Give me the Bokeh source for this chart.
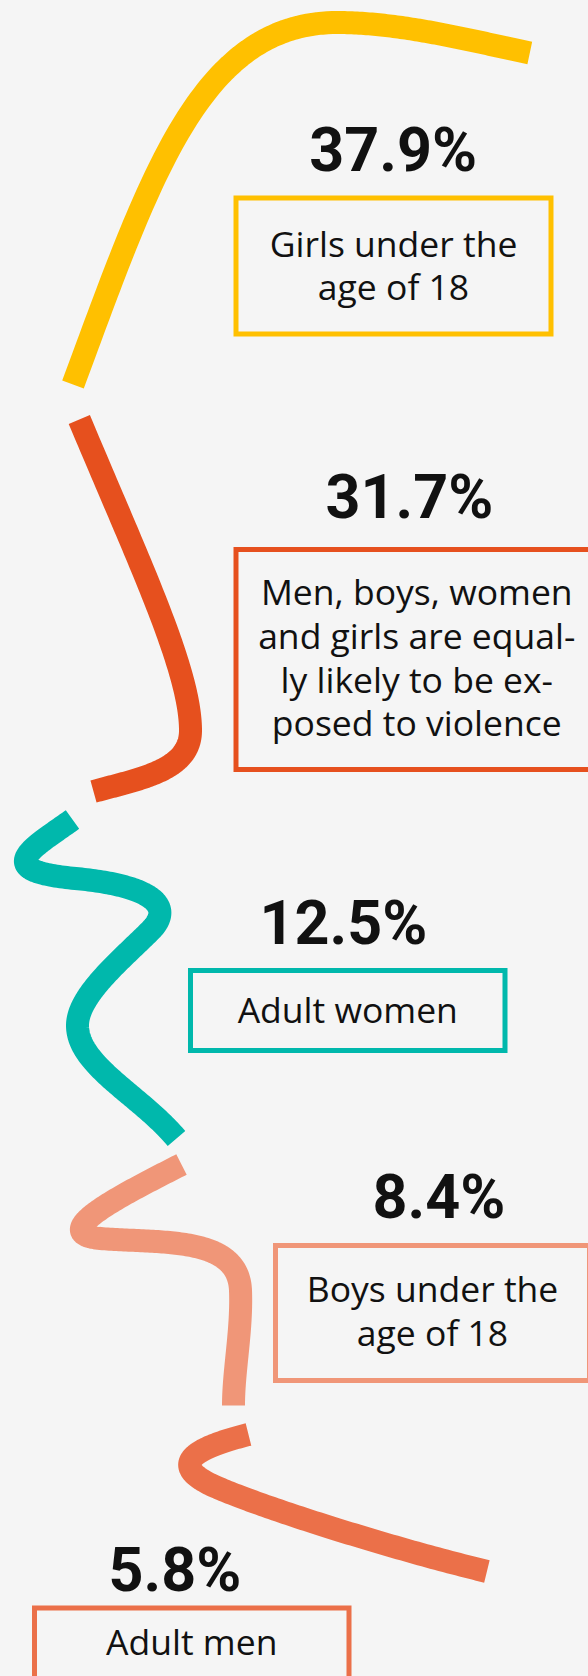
import numpy as np
from bokeh.plotting import figure
from bokeh.models import Range1d
from bokeh.embed import file_html
from bokeh.resources import INLINE
from bokeh.core.properties import value

# ---------------- data ----------------
categories = [
    "Girls under the age of 18",
    "Men, boys, women and girls are equally likely to be exposed to violence",
    "Adult women",
    "Boys under the age of 18",
    "Adult men",
]
shares = [37.9, 31.7, 12.5, 8.4, 5.8]
label_lines = [
    ["Girls under the", "age of 18"],
    ["Men, boys, women", "and girls are equal-", "ly likely to be ex-", "posed to violence"],
    ["Adult women"],
    ["Boys under the", "age of 18"],
    ["Adult men"],
]

# ---------------- styles ----------------
colors = ["#FFC000", "#E6501E", "#00B8AC", "#F09678", "#EB7049"]
BG = "#f5f5f5"
TEXT = "#111111"

# ---------------- layout (page pixels) ----------------
pct_x = [392.6, 409, 343, 438.5, 174.5]
pct_base = [170, 517, 943, 1217, 1590]
box_l = [235.5, 235.5, 190, 275, 34]
box_r = [550.5, 597, 504.5, 589, 348.5]
box_t = [197.5, 549, 970, 1245, 1607.5]
box_b = [333.5, 769, 1050, 1380, 1692]
first_base = [257, 605.7, 1023, 1302.7, 1655]
LINE_PITCH = 43.7
PCT_DY = -21     # renderer baseline calibration
TXT_DY = -15

# decorative wavy strokes: start point + (c1, c2, end) per cubic segment
curves = [
    [(72.5, 384), (150, 175), (200, 22), (337, 22), (400, 22), (470, 40), (529.3, 52.5)],
    [(78.8, 419), (140, 565), (190, 670), (190, 730), (190, 770), (140, 778), (93, 791)],
    [(72, 819), (30, 849), (-10, 870), (75, 878),
     (150, 885), (175, 905), (150, 930),
     (120, 960), (77, 995), (77, 1025),
     (77, 1065), (140, 1095), (176, 1138)],
    [(181, 1164), (120, 1195), (45, 1233), (100, 1238),
     (160, 1243), (238, 1235), (240, 1290),
     (241.5, 1330), (233, 1370), (233, 1405)],
    [(248, 1434), (200, 1446), (165, 1462), (210, 1484),
     (250, 1503), (380, 1545), (486.4, 1571)],
]


def bezier_path(pts, n=80):
    pts = np.asarray(pts, dtype=float)
    xs, ys = [pts[0, 0]], [pts[0, 1]]
    t = np.linspace(0, 1, n)[1:, None]
    for i in range(1, len(pts), 3):
        p0, p1, p2, p3 = pts[i - 1], pts[i], pts[i + 1], pts[i + 2]
        seg = ((1 - t) ** 3) * p0 + 3 * t * (1 - t) ** 2 * p1 + 3 * t ** 2 * (1 - t) * p2 + t ** 3 * p3
        xs.extend(seg[:, 0])
        ys.extend(seg[:, 1])
    return xs, ys


W, H = 588, 1676
p = figure(width=W, height=H, x_range=Range1d(0, W), y_range=Range1d(H, 0),
           output_backend="svg", toolbar_location=None, x_axis_type=None, y_axis_type=None,
           min_border=0, min_border_left=0, min_border_right=0, min_border_top=0, min_border_bottom=0,
           background_fill_color=BG, border_fill_color=BG, outline_line_color=None)
p.grid.visible = False

for pts, c in zip(curves, colors):
    xs, ys = bezier_path(pts)
    p.line(xs, ys, line_width=23, line_color=c, line_cap="butt", line_join="round")

p.quad(left=box_l, right=box_r, top=box_t, bottom=box_b, fill_color=None,
       line_color=colors, line_width=5, line_join="miter")

p.text(x=pct_x, y=[b + PCT_DY for b in pct_base], text=[f"{v}%" for v in shares],
       text_font=value("Roboto"), text_font_style="bold", text_font_size="61px",
       text_align="center", text_baseline="alphabetic", text_color=TEXT)

tx, ty, tt = [], [], []
for i, lines in enumerate(label_lines):
    cx = (box_l[i] + box_r[i]) / 2
    for j, ln in enumerate(lines):
        tx.append(cx)
        ty.append(first_base[i] + j * LINE_PITCH + TXT_DY)
        tt.append(ln)
p.text(x=tx, y=ty, text=tt, text_font=value("Open Sans"), text_font_size="35.5px",
       text_align="center", text_baseline="alphabetic", text_color=TEXT)

html = file_html(p, INLINE, "chart")
html = html.replace("<head>", "<head><style>html,body{background:#f5f5f5;}</style>", 1)
open("out.html", "w").write(html)
